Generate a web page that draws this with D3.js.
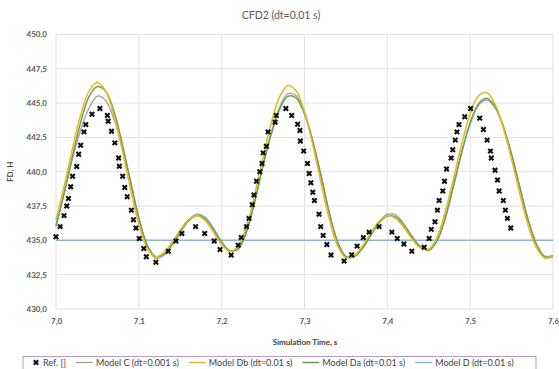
<!DOCTYPE html>
<html>
<head>
<meta charset="utf-8">
<script src="https://cdn.jsdelivr.net/npm/d3@7"></script>
<style>
  body { margin: 0; background: #fff; }
  svg { font-family: Lato, "Open Sans", sans-serif; }
</style>
</head>
<body>
<div class="chart"></div>
<script>
// reference points (Ref. [])
var refTime = [7.000, 7.005, 7.0097, 7.0129, 7.015, 7.0177, 7.020, 7.025, 7.0274, 7.0298, 7.0338, 7.036, 7.0434, 7.053,
  7.062, 7.063, 7.067, 7.071, 7.0756, 7.0765, 7.0805, 7.083, 7.086, 7.091, 7.0935, 7.0965, 7.1005, 7.106, 7.109, 7.1206,
  7.1355, 7.1448, 7.152, 7.1685, 7.1795, 7.191, 7.198, 7.2115, 7.220, 7.2236, 7.230, 7.233, 7.237, 7.239, 7.242, 7.246,
  7.2487, 7.250, 7.254, 7.256, 7.2645, 7.266, 7.2775, 7.2845, 7.2917, 7.2945, 7.2950, 7.299, 7.3036, 7.3056, 7.3077,
  7.310, 7.312, 7.3175, 7.3195, 7.3225, 7.327, 7.332, 7.3478, 7.357, 7.3635, 7.371, 7.378, 7.390, 7.4055, 7.412, 7.420,
  7.4295, 7.4445, 7.4505, 7.453, 7.4575, 7.4605, 7.4625, 7.467, 7.469, 7.4715, 7.477, 7.479, 7.482, 7.484, 7.4865,
  7.4935, 7.5005, 7.5115, 7.516, 7.5205, 7.5245, 7.5255, 7.530, 7.533, 7.535, 7.540, 7.5425, 7.545, 7.549];
var refValue = [435.26, 436.0, 436.8, 437.5, 438.05, 438.9, 439.67, 440.38, 441.27, 441.93, 442.9, 443.43, 444.18, 444.6,
  444.1, 443.67, 442.95, 442.1, 441.0, 440.4, 439.67, 438.85, 438.17, 437.2, 436.5, 435.9, 435.14, 434.4, 433.8, 433.4,
  434.2, 434.95, 435.5, 436.0, 435.5, 434.95, 434.34, 433.93, 434.65, 435.2, 436.0, 436.6, 437.6, 438.3, 439.3, 440.0,
  440.6, 441.37, 441.85, 442.9, 443.6, 444.1, 444.6, 444.1, 443.45, 443.0, 442.24, 441.5, 440.6, 439.87, 439.2,
  438.5, 437.9, 436.9, 436.0, 435.36, 434.7, 433.93, 433.5, 433.95, 434.58, 435.2, 435.6, 436.0, 435.6, 435.14, 434.73,
  434.2, 434.5, 435.14, 435.8, 436.35, 437.2, 437.9, 438.6, 439.3, 440.2, 441.0, 441.6, 442.3, 442.9, 443.43,
  444.0, 444.6, 443.9, 443.07, 442.3, 441.5, 441.0, 440.1, 439.4, 438.6, 437.9, 437.2, 436.6, 435.9];

// model output times
var modelTime = [7.00, 7.01, 7.02, 7.03, 7.04, 7.05, 7.06, 7.07, 7.08, 7.09, 7.10, 7.11, 7.12, 7.13, 7.14, 7.15,
  7.16, 7.17, 7.18, 7.19, 7.20, 7.21, 7.22, 7.23, 7.24, 7.25, 7.26, 7.27, 7.28, 7.29, 7.30, 7.31, 7.32, 7.33,
  7.34, 7.35, 7.36, 7.37, 7.38, 7.39, 7.40, 7.41, 7.42, 7.43, 7.44, 7.45, 7.46, 7.47, 7.48, 7.49, 7.50, 7.51,
  7.52, 7.53, 7.54, 7.55, 7.56, 7.57, 7.58, 7.59, 7.60];
var modelC = [436.0, 438.5, 440.98, 443.09, 444.64, 445.5, 445.17, 443.84, 441.79, 439.27, 436.62, 434.6, 433.7, 433.9,
  434.65, 435.6, 436.5, 436.9, 436.7, 435.9, 434.9, 434.25, 434.35, 435.6, 437.8, 440.49, 442.86, 444.71, 445.68,
  445.54, 444.32, 442.25, 439.7, 437.0, 434.9, 433.85, 433.85, 434.45, 435.4, 436.35, 436.9, 436.85, 436.2, 435.3,
  434.55, 434.3, 434.95, 436.6, 438.95, 441.44, 443.48, 444.83, 445.23, 444.66, 443.24, 441.23, 438.85, 436.5,
  434.75, 433.85, 433.9];
var modelDb = [436.5, 438.98, 441.72, 444.18, 445.89, 446.5, 445.87, 444.11, 441.57, 438.73, 436.19, 434.43, 433.8,
  434.09, 434.84, 435.76, 436.51, 436.8, 436.45, 435.6, 434.69, 434.21, 434.59, 436.07, 438.38, 441.06, 443.58,
  445.45, 446.28, 445.9, 444.35, 441.95, 439.16, 436.53, 434.58, 433.73, 433.89, 434.59, 435.54, 436.38, 436.79,
  436.61, 435.94, 435.08, 434.45, 434.35, 435.25, 437.1, 439.53, 442.07, 444.21, 445.52, 445.75, 444.92, 443.2,
  440.89, 438.37, 436.09, 434.46, 433.72, 433.85];
var modelDa = [436.08, 438.46, 441.16, 443.65, 445.49, 446.2, 445.85, 444.4, 442.05, 439.27, 436.62, 434.67, 433.83,
  433.99, 434.67, 435.59, 436.41, 436.81, 436.57, 435.78, 434.83, 434.22, 434.4, 435.69, 437.88, 440.48, 442.76,
  444.56, 445.49, 445.36, 444.18, 442.17, 439.7, 436.99, 434.86, 433.8, 433.8, 434.42, 435.36, 436.26, 436.77,
  436.7, 436.09, 435.23, 434.52, 434.27, 434.98, 436.67, 439.03, 441.47, 443.56, 444.94, 445.35, 444.77, 443.31,
  441.26, 438.85, 436.48, 434.7, 433.78, 433.8];
var modelDTime = [7.00, 7.60];
var modelD = [435.0, 435.0];

var yTicks = [430, 432.5, 435, 437.5, 440, 442.5, 445, 447.5, 450];
var xTicks = [7.0, 7.1, 7.2, 7.3, 7.4, 7.5, 7.6];

var width = 559, height = 369;
var plotLeft = 56, plotRight = 553, plotTop = 34.4, plotBottom = 309;

var svg = d3.select(".chart").append("svg")
  .attr("width", width)
  .attr("height", height);

var x = d3.scaleLinear().domain([7.0, 7.6]).range([plotLeft, plotRight]);
var y = d3.scaleLinear().domain([430, 450]).range([plotBottom, plotTop]);

var fmt = function (v) { return d3.format(".1f")(v).replace(".", ","); };

// grid
svg.append("g")
  .selectAll("line")
  .data(yTicks)
  .enter().append("line")
  .attr("x1", plotLeft).attr("x2", plotRight)
  .attr("y1", function (d) { return y(d); })
  .attr("y2", function (d) { return y(d); })
  .attr("stroke", "#e0e0e0").attr("stroke-width", 1);

svg.append("g")
  .selectAll("line")
  .data(xTicks)
  .enter().append("line")
  .attr("y1", plotTop).attr("y2", plotBottom)
  .attr("x1", function (d) { return x(d); })
  .attr("x2", function (d) { return x(d); })
  .attr("stroke", "#e0e0e0").attr("stroke-width", 1);

// axes labels
var yAxis = d3.axisLeft(y).tickValues(yTicks).tickFormat(fmt).tickSize(0).tickPadding(9);
var gy = svg.append("g").attr("transform", "translate(" + plotLeft + ",0)").call(yAxis);
var xAxis = d3.axisBottom(x).tickValues(xTicks).tickFormat(fmt).tickSize(0).tickPadding(9);
var gx = svg.append("g").attr("transform", "translate(0," + plotBottom + ")").call(xAxis);
[gy, gx].forEach(function (g) {
  g.select(".domain").remove();
  g.selectAll("text").attr("fill", "#595959")
    .style("font-family", "Lato, sans-serif")
    .style("font-size", "8px").style("font-weight", "bold");
});

// model curves
var series = [
  { name: "Model C (dt=0.001 s)", t: modelTime, v: modelC, color: "#a9a9a9" },
  { name: "Model Db (dt=0.01 s)", t: modelTime, v: modelDb, color: "#e0bc1c" },
  { name: "Model Da (dt=0.01 s)", t: modelTime, v: modelDa, color: "#6f9e5a" },
  { name: "Model D (dt=0.01 s)", t: modelDTime, v: modelD, color: "#8fb3d6" }
];

var line = d3.line()
  .x(function (d) { return x(d[0]); })
  .y(function (d) { return y(d[1]); })
  .curve(d3.curveCatmullRom);

var drawOrder = [3, 0, 2, 1];
drawOrder.forEach(function (i) {
  var s = series[i];
  svg.append("path")
    .datum(d3.zip(s.t, s.v))
    .attr("d", line)
    .attr("fill", "none")
    .attr("stroke", s.color)
    .attr("stroke-width", 1.5);
});

// reference markers
var cross = d3.symbol().type(d3.symbolCross).size(22);
svg.append("g")
  .selectAll("path")
  .data(d3.zip(refTime, refValue))
  .enter().append("path")
  .attr("d", cross)
  .attr("transform", function (d) { return "translate(" + x(d[0]) + "," + y(d[1]) + ") rotate(45)"; })
  .attr("fill", "#111");

// titles
svg.append("text")
  .attr("x", 281).attr("y", 19)
  .attr("text-anchor", "middle")
  .attr("fill", "#595959")
  .style("font-size", "10.5px")
  .text("CFD2 (dt=0.01 s)");

svg.append("text")
  .attr("x", 305).attr("y", 345)
  .attr("text-anchor", "middle")
  .attr("fill", "#404040")
  .style("font-size", "8px").style("font-weight", "bold")
  .text("Simulation Time, s");

svg.append("text")
  .attr("transform", "translate(13," + ((plotTop + plotBottom) / 2) + ") rotate(-90)")
  .attr("text-anchor", "middle")
  .attr("fill", "#404040")
  .style("font-size", "8px").style("font-weight", "bold")
  .text("FD, H");

// legend
var legend = svg.append("g");
legend.append("rect")
  .attr("x", 23).attr("y", 356.5)
  .attr("width", 513).attr("height", 20)
  .attr("fill", "#fff")
  .attr("stroke", "#b89cc8").attr("stroke-width", 1);

var ly = 362.5;
var items = [{ name: "Ref. []", marker: true }].concat(series);
var lx = 33;
items.forEach(function (it) {
  if (it.marker) {
    legend.append("path")
      .attr("d", cross)
      .attr("transform", "translate(" + (lx + 3) + "," + ly + ") rotate(45)")
      .attr("fill", "#111");
    lx += 10;
  } else {
    legend.append("line")
      .attr("x1", lx).attr("x2", lx + 17)
      .attr("y1", ly).attr("y2", ly)
      .attr("stroke", it.color).attr("stroke-width", 1.5);
    lx += 20;
  }
  var t = legend.append("text")
    .attr("x", lx).attr("y", ly + 3)
    .attr("fill", "#404040")
    .style("font-size", "9px")
    .text(it.name);
  lx += t.node().getComputedTextLength() + 10;
});
</script>
</body>
</html>
